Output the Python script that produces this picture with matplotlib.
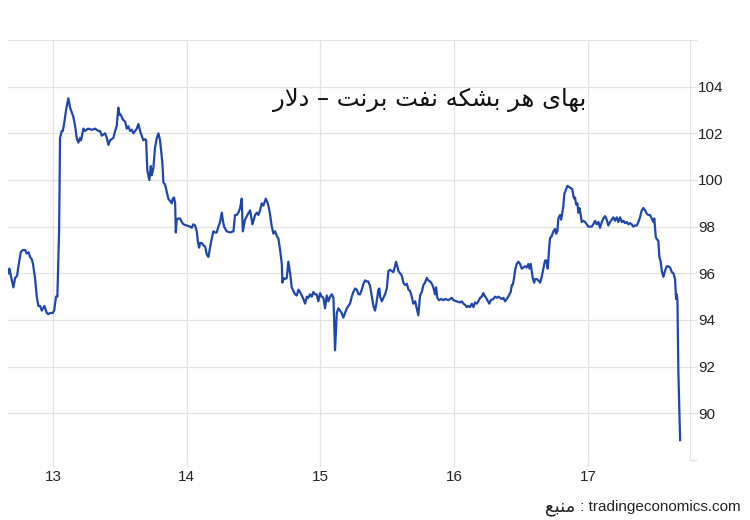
import matplotlib
matplotlib.use("Agg")
import matplotlib.pyplot as plt

plt.rcParams['font.family'] = ['Liberation Sans', 'DejaVu Sans']

title_fa = "بهای هر بشکه نفت برنت – دلار"
source_fa = "منبع"
source_site = "tradingeconomics.com"

day_ticks = [13, 14, 15, 16, 17]
price_ticks = [88, 90, 92, 94, 96, 98, 100, 102, 104, 106]

# brent price, time in days of the month
times = [
    12.666, 12.673, 12.703, 12.716, 12.731, 12.738, 12.758, 12.773, 12.791, 12.803,
    12.817, 12.828, 12.841, 12.850, 12.865, 12.878, 12.890, 12.903, 12.916, 12.925,
    12.935, 12.953, 12.965, 12.978, 12.998, 13.008, 13.022, 13.032, 13.045, 13.052,
    13.065, 13.073, 13.085, 13.097, 13.114, 13.127, 13.140, 13.152, 13.165, 13.177,
    13.189, 13.202, 13.209, 13.227, 13.239, 13.262, 13.290, 13.314, 13.327, 13.339,
    13.352, 13.364, 13.376, 13.389, 13.402, 13.414, 13.426, 13.451, 13.464, 13.476,
    13.488, 13.496, 13.506, 13.521, 13.539, 13.551, 13.563, 13.576, 13.589, 13.601,
    13.613, 13.626, 13.638, 13.651, 13.663, 13.675, 13.688, 13.696, 13.705, 13.720,
    13.731, 13.738, 13.750, 13.763, 13.776, 13.788, 13.800, 13.818, 13.825, 13.838,
    13.850, 13.862, 13.875, 13.888, 13.895, 13.905, 13.913, 13.918, 13.925, 13.937,
    13.950, 13.963, 13.975, 14.000, 14.025, 14.037, 14.049, 14.062, 14.075, 14.082,
    14.092, 14.100, 14.112, 14.124, 14.137, 14.150, 14.162, 14.174, 14.187, 14.199,
    14.212, 14.224, 14.236, 14.249, 14.262, 14.269, 14.279, 14.299, 14.324, 14.349,
    14.361, 14.374, 14.386, 14.399, 14.411, 14.419, 14.436, 14.449, 14.474, 14.491,
    14.511, 14.524, 14.536, 14.548, 14.561, 14.573, 14.591, 14.606, 14.618, 14.636,
    14.648, 14.661, 14.673, 14.685, 14.698, 14.711, 14.715, 14.723, 14.735, 14.748,
    14.760, 14.773, 14.785, 14.797, 14.810, 14.823, 14.835, 14.847, 14.860, 14.872,
    14.885, 14.898, 14.910, 14.922, 14.935, 14.947, 14.960, 14.972, 14.984, 14.997,
    15.010, 15.022, 15.034, 15.047, 15.059, 15.072, 15.085, 15.097, 15.109, 15.122,
    15.134, 15.147, 15.159, 15.171, 15.197, 15.209, 15.221, 15.234, 15.246, 15.259,
    15.272, 15.284, 15.296, 15.309, 15.321, 15.334, 15.346, 15.358, 15.371, 15.384,
    15.396, 15.408, 15.421, 15.433, 15.441, 15.446, 15.459, 15.471, 15.483, 15.496,
    15.508, 15.521, 15.533, 15.545, 15.558, 15.565, 15.575, 15.583, 15.595, 15.608,
    15.620, 15.633, 15.646, 15.658, 15.670, 15.683, 15.695, 15.708, 15.720, 15.732,
    15.745, 15.758, 15.770, 15.782, 15.795, 15.807, 15.820, 15.833, 15.844, 15.857,
    15.865, 15.874, 15.887, 15.902, 15.919, 15.932, 15.957, 15.969, 15.982, 15.994,
    16.019, 16.044, 16.057, 16.069, 16.082, 16.094, 16.106, 16.119, 16.132, 16.144,
    16.156, 16.169, 16.181, 16.194, 16.206, 16.218, 16.226, 16.239, 16.248, 16.263,
    16.274, 16.293, 16.306, 16.319, 16.331, 16.343, 16.356, 16.368, 16.381, 16.393,
    16.405, 16.413, 16.423, 16.431, 16.438, 16.448, 16.458, 16.468, 16.480, 16.493,
    16.506, 16.518, 16.530, 16.543, 16.555, 16.563, 16.573, 16.580, 16.588, 16.598,
    16.605, 16.618, 16.630, 16.643, 16.655, 16.667, 16.680, 16.690, 16.700, 16.710,
    16.717, 16.730, 16.742, 16.755, 16.762, 16.772, 16.779, 16.792, 16.800, 16.809,
    16.817, 16.824, 16.837, 16.847, 16.859, 16.874, 16.884, 16.892, 16.899, 16.904,
    16.912, 16.922, 16.929, 16.937, 16.947, 16.954, 16.966, 16.979, 16.992, 17.004,
    17.029, 17.041, 17.054, 17.067, 17.079, 17.091, 17.104, 17.116, 17.129, 17.141,
    17.153, 17.166, 17.179, 17.191, 17.203, 17.216, 17.228, 17.241, 17.254, 17.266,
    17.278, 17.291, 17.303, 17.316, 17.328, 17.340, 17.353, 17.366, 17.378, 17.390,
    17.403, 17.415, 17.428, 17.441, 17.453, 17.465, 17.478, 17.490, 17.497, 17.508,
    17.518, 17.527, 17.535, 17.545, 17.553, 17.565, 17.577, 17.590, 17.602, 17.615,
    17.628, 17.640, 17.652, 17.660, 17.665, 17.670, 17.677, 17.690,
]
prices = [
    96.0, 96.2, 95.4, 95.8, 95.9, 96.2, 96.9, 97.0, 97.0, 96.85,
    96.9, 96.7, 96.6, 96.4, 95.8, 95.0, 94.6, 94.6, 94.4, 94.5,
    94.6, 94.3, 94.25, 94.3, 94.3, 94.4, 95.0, 95.0, 97.8, 101.8,
    102.1, 102.1, 102.5, 103.0, 103.5, 103.1, 102.9, 102.7, 102.3, 101.8,
    101.6, 101.8, 101.7, 102.2, 102.1, 102.2, 102.15, 102.2, 102.15, 102.1,
    102.1, 101.9, 101.95, 102.0, 101.8, 101.5, 101.7, 101.8, 102.1, 102.3,
    103.1, 102.8, 102.8, 102.6, 102.5, 102.2, 102.3, 102.1, 102.15, 102.0,
    102.1, 102.2, 102.4, 102.1, 101.9, 101.7, 101.75, 101.7, 100.4, 100.0,
    100.6, 100.2, 100.5, 101.4, 101.8, 102.0, 101.7, 100.7, 99.9, 99.8,
    99.5, 99.2, 99.1, 99.0, 99.2, 99.25, 99.0, 97.75, 98.3, 98.35,
    98.35, 98.2, 98.1, 98.05, 98.0, 97.95, 98.1, 98.05, 97.8, 97.4,
    97.1, 97.3, 97.3, 97.2, 97.15, 96.8, 96.7, 97.1, 97.5, 97.8,
    97.75, 97.75, 98.0, 98.2, 98.6, 98.3, 98.0, 97.8, 97.75, 97.8,
    98.5, 98.5, 98.6, 98.8, 99.2, 97.8, 98.3, 98.45, 98.7, 98.1,
    98.5, 98.6, 98.5, 98.7, 99.0, 98.9, 99.2, 99.0, 98.7, 98.0,
    97.7, 97.8, 97.6, 97.5, 97.0, 96.4, 95.6, 95.8, 95.75, 95.8,
    96.5, 96.0, 95.4, 95.25, 95.1, 95.05, 95.3, 95.2, 95.05, 94.9,
    94.7, 95.0, 94.95, 95.1, 95.0, 95.2, 95.1, 95.1, 94.8, 95.15,
    95.0, 94.95, 94.5, 95.05, 94.8, 95.0, 95.1, 94.95, 92.7, 94.3,
    94.5, 94.4, 94.3, 94.1, 94.5, 94.6, 94.7, 95.0, 95.2, 95.35,
    95.3, 95.1, 95.1, 95.3, 95.55, 95.7, 95.65, 95.65, 95.45, 95.0,
    94.6, 94.4, 94.8, 95.3, 95.35, 95.0, 94.8, 94.95, 95.1, 95.35,
    96.1, 96.15, 96.1, 96.05, 96.3, 96.5, 96.3, 96.1, 96.0, 95.9,
    95.6, 95.5, 95.55, 95.3, 95.25, 95.0, 94.7, 94.8, 94.5, 94.2,
    95.05, 95.2, 95.5, 95.6, 95.8, 95.7, 95.65, 95.55, 95.4, 95.1,
    95.4, 94.95, 94.85, 94.9, 94.85, 94.9, 94.85, 94.9, 94.95, 94.85,
    94.8, 94.75, 94.8, 94.7, 94.65, 94.55, 94.6, 94.55, 94.7, 94.55,
    94.75, 94.7, 94.8, 94.95, 95.0, 95.15, 95.05, 94.95, 94.85, 94.7,
    94.85, 94.9, 95.0, 94.95, 95.0, 94.95, 94.9, 94.95, 94.8, 94.9,
    95.0, 95.1, 95.2, 95.5, 95.5, 95.8, 96.2, 96.4, 96.5, 96.4,
    96.2, 96.25, 96.3, 96.25, 96.4, 96.2, 96.4, 96.1, 95.8, 95.6,
    95.75, 95.75, 95.7, 95.6, 95.85, 96.2, 96.55, 96.55, 96.2, 97.05,
    97.5, 97.6, 97.8, 97.9, 97.7, 97.8, 98.35, 98.5, 98.3, 98.6,
    98.9, 99.4, 99.6, 99.75, 99.7, 99.65, 99.6, 99.3, 99.2, 99.25,
    98.95, 99.0, 98.6, 98.8, 98.5, 98.2, 98.25, 98.2, 98.1, 98.0,
    98.0, 98.1, 98.25, 98.1, 98.2, 97.95, 98.2, 98.35, 98.45, 98.3,
    98.05, 98.2, 98.3, 98.4, 98.25, 98.4, 98.2, 98.4, 98.2, 98.25,
    98.15, 98.2, 98.1, 98.15, 98.1, 98.0, 98.05, 98.05, 98.2, 98.4,
    98.7, 98.8, 98.7, 98.55, 98.5, 98.5, 98.35, 98.2, 98.35, 97.55,
    97.45, 97.4, 96.7, 96.5, 96.1, 95.85, 96.1, 96.3, 96.3, 96.25,
    96.05, 96.0, 95.75, 94.9, 95.1, 94.85, 91.8, 88.85,
]

# matplotlib has no arabic shaping, so pick the presentation forms by hand
FORMS = {
    'ا': ('\uFE8D', '\uFE8E', None, None),
    'ب': ('\uFE8F', '\uFE90', '\uFE91', '\uFE92'),
    'ت': ('\uFE95', '\uFE96', '\uFE97', '\uFE98'),
    'د': ('\uFEA9', '\uFEAA', None, None),
    'ر': ('\uFEAD', '\uFEAE', None, None),
    'ش': ('\uFEB5', '\uFEB6', '\uFEB7', '\uFEB8'),
    'ع': ('\uFEC9', '\uFECA', '\uFECB', '\uFECC'),
    'ف': ('\uFED1', '\uFED2', '\uFED3', '\uFED4'),
    'ک': ('\uFB8E', '\uFB8F', '\uFB90', '\uFB91'),
    'ل': ('\uFEDD', '\uFEDE', '\uFEDF', '\uFEE0'),
    'م': ('\uFEE1', '\uFEE2', '\uFEE3', '\uFEE4'),
    'ن': ('\uFEE5', '\uFEE6', '\uFEE7', '\uFEE8'),
    'ه': ('\uFEE9', '\uFEEA', '\uFEEB', '\uFEEC'),
    'ی': ('\uFBFC', '\uFBFD', '\uFBFE', '\uFBFF'),
}


def shape(text):
    out = []
    i = 0
    n = len(text)
    while i < n:
        c = text[i]
        if c not in FORMS:
            out.append(c)
            i += 1
            continue
        prev = text[i - 1] if i > 0 else ''
        joins_prev = prev in FORMS and FORMS[prev][2] is not None
        if c == 'ل' and i + 1 < n and text[i + 1] == 'ا':
            out.append('\uFEFC' if joins_prev else '\uFEFB')
            i += 2
            continue
        nxt = text[i + 1] if i + 1 < n else ''
        joins_next = FORMS[c][2] is not None and nxt in FORMS
        iso, fin, ini, med = FORMS[c]
        if joins_prev and joins_next:
            out.append(med)
        elif joins_prev:
            out.append(fin)
        elif joins_next:
            out.append(ini)
        else:
            out.append(iso)
        i += 1
    return ''.join(out)[::-1]


fig = plt.figure(figsize=(7.5, 5.2), dpi=100)
ax = fig.add_axes([0.0107, 0.1154, 0.9093, 0.8077])

ax.plot(times, prices, color='#1f47ab', linewidth=1.6)

ax.set_xlim(12.663, 17.764)
ax.set_ylim(88, 106)
ax.set_xticks(day_ticks)
ax.set_xticklabels([str(d) for d in day_ticks])
ax.set_yticks(price_ticks)
ax.set_yticklabels(['' if p in (88, 106) else str(p) for p in price_ticks])
ax.yaxis.tick_right()

grid_col = '#e3e3e3'
ax.grid(True, color=grid_col, linewidth=0.9)
ax.set_axisbelow(True)
for side in ['top', 'left', 'bottom']:
    ax.spines[side].set_visible(False)
ax.spines['right'].set_color(grid_col)
ax.tick_params(axis='both', colors=grid_col, labelcolor='#222222',
               labelsize=11, length=5, width=0.9)
ax.tick_params(axis='y', pad=1)
ax.tick_params(axis='x', pad=2)

ax.text(0.618, 0.857, shape(title_fa), transform=ax.transAxes,
        ha='center', va='center', fontsize=17.5, color='#111111',
        family=['DejaVu Sans'])

site = fig.text(0.987, 0.012, " : " + source_site,
                ha='right', va='bottom', fontsize=11, color='#222222')
fig.canvas.draw()
left_px = site.get_window_extent().x0
fig.text(left_px / fig.bbox.width, 0.008, shape(source_fa),
         ha='right', va='bottom', fontsize=13, color='#222222',
         family=['DejaVu Sans'])

fig.savefig('out.png', dpi=100)
